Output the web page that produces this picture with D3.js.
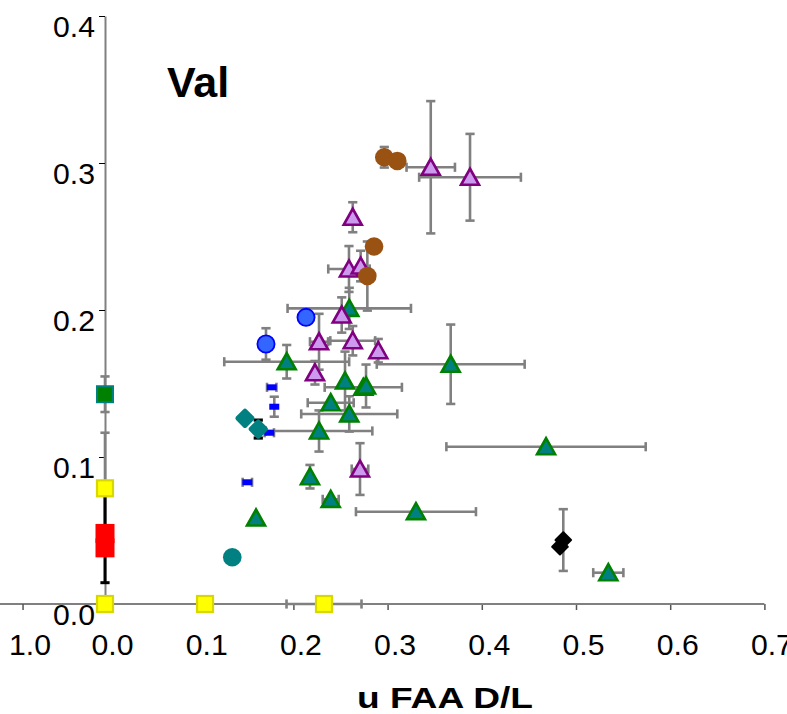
<!DOCTYPE html>
<html>
<head>
<meta charset="utf-8">
<script src="https://cdn.jsdelivr.net/npm/d3@7"></script>
<style>
  html, body { margin: 0; padding: 0; background: #fff; }
  svg { display: block; font-family: "Liberation Sans", Arial, sans-serif; }
</style>
</head>
<body>
<svg id="chart" width="787" height="714"></svg>
<script>
// ---- axis ticks ----
const xTickValues = [0, 0.1, 0.2, 0.3, 0.4, 0.5, 0.6, 0.7];
const xTickLabels = ["0.0", "0.1", "0.2", "0.3", "0.4", "0.5", "0.6", "0.7"];
const yTickValues = [0, 0.1, 0.2, 0.3, 0.4];
const yTickLabels = ["0.0", "0.1", "0.2", "0.3", "0.4"];
const strayTick = { value: -0.087, label: "1.0" };

// ---- series: x = u FAA D/L, y = Val; ex / ey are ± errors (number or [minus, plus]) ----
const purpleTriangles = [
  { x: 0.3458, y: 0.2971, ex: 0.0257, ey: 0.045 },
  { x: 0.3875, y: 0.2903, ex: 0.054, ey: 0.0295 },
  { x: 0.2630, y: 0.2631, ey: 0.0102 },
  { x: 0.2590, y: 0.2279, ex: 0.022, ey: 0.0156 },
  { x: 0.2714, y: 0.2299, ey: 0.0104 },
  { x: 0.2513, y: 0.1966, ey: 0.012 },
  { x: 0.2272, y: 0.1784, ex: 0.0096, ey: 0.019 },
  { x: 0.2630, y: 0.1791, ex: 0.0238, ey: 0.01 },
  { x: 0.2901, y: 0.1723, ey: 0.008 },
  { x: 0.2229, y: 0.1573, ey: 0.008 },
  { x: 0.2707, y: 0.0918, ex: 0.0088, ey: 0.0176 }
];
const greenTriangles = [
  { x: 0.2593, y: 0.2011, ex: 0.0655, ey: 0.014 },
  { x: 0.1929, y: 0.1648, ex: 0.0663, ey: 0.0114 },
  { x: 0.3670, y: 0.1631, ex: 0.0785, ey: 0.027 },
  { x: 0.2548, y: 0.1517, ey: 0.02 },
  { x: 0.2742, y: 0.1474, ex: 0.041 },
  { x: 0.2771, y: 0.1483, ey: 0.0146 },
  { x: 0.2396, y: 0.1369, ex: 0.0244 },
  { x: 0.2593, y: 0.1293, ex: 0.051, ey: 0.012 },
  { x: 0.2272, y: 0.1177, ex: 0.0566, ey: 0.014 },
  { x: 0.4682, y: 0.1070, ex: 0.1058 },
  { x: 0.2176, y: 0.0866, ey: 0.008 },
  { x: 0.2396, y: 0.0712, ex: 0.0085 },
  { x: 0.1603, y: 0.0585 },
  { x: 0.3301, y: 0.0628, ex: 0.0637 },
  { x: 0.5343, y: 0.0213, ex: 0.016 }
];
const brownCircles = [
  { x: 0.2965, y: 0.3039, ey: 0.007 },
  { x: 0.3103, y: 0.3014 },
  { x: 0.2856, y: 0.2432 },
  { x: 0.2785, y: 0.2231, ey: 0.0235 }
];
const blueCircles = [
  { x: 0.2134, y: 0.1950 },
  { x: 0.1709, y: 0.1769, ey: 0.0107 }
];
const blueDashes = [
  { x: 0.1770, y: 0.1474, ex: 0.005 },
  { x: 0.1797, y: 0.1342, ey: 0.0068 },
  { x: 0.1744, y: 0.1165, ex: 0.005 },
  { x: 0.1511, y: 0.0828, ex: 0.005 }
];
const tealDiamonds = [
  { x: 0.1486, y: 0.1263 },
  { x: 0.1627, y: 0.1190, eyBlack: 0.0061 }
];
const tealCircles = [
  { x: 0.1351, y: 0.0318 }
];
const blackDiamonds = [
  { x: 0.4865, y: 0.0435, ey: 0.021 },
  { x: 0.4830, y: 0.0390 }
];
const yellowSquares = [
  { x: 0, y: 0.0787, ey: 0.0378 },
  { x: 0, y: 0 },
  { x: 0.1062, y: 0 },
  { x: 0.2325, y: 0, ex: 0.0398 }
];
const redSquares = [
  { x: 0, y: 0.0480 },
  { x: 0, y: 0.0382, eyBlack: [0.0237, 0.042] }
];
const greenSquares = [
  { x: 0, y: 0.1427, ey: 0.0121 }
];

// ---- scales ----
const x = d3.scaleLinear().domain([0, 0.7]).range([105, 764.4]);
const y = d3.scaleLinear().domain([0, 0.4]).range([604, 16]);

const svg = d3.select("#chart");

// ---- axes ----
const xAxisG = svg.append("g").attr("transform", `translate(0,${y(0)})`);
xAxisG.call(d3.axisBottom(x).tickValues(xTickValues).tickSize(6).tickSizeOuter(0)
  .tickFormat((d, i) => xTickLabels[i]));
xAxisG.select(".domain").remove();
xAxisG.append("line")
  .attr("x1", x(-0.112)).attr("x2", x(0.7))
  .attr("stroke", "#808080").attr("stroke-width", 2);
// extra tick on the left end of the axis
const stray = xAxisG.append("g").attr("transform", `translate(${x(strayTick.value)},0)`);
stray.append("line").attr("y2", 6);
stray.append("text").text(strayTick.label);
xAxisG.selectAll(".tick line, g line").filter(function () { return this.getAttribute("y2") === "6"; })
  .attr("stroke", "#555").attr("stroke-width", 1.5);
xAxisG.selectAll("text")
  .attr("x", 7).attr("y", 51).attr("dy", null)
  .attr("fill", "#000").attr("font-size", 29)
  .attr("text-anchor", "middle")
  .attr("textLength", 42).attr("lengthAdjust", "spacingAndGlyphs");

const yAxisG = svg.append("g").attr("transform", `translate(${x(0)},0)`);
yAxisG.call(d3.axisLeft(y).tickValues(yTickValues).tickSize(6).tickSizeOuter(0)
  .tickFormat((d, i) => yTickLabels[i]));
yAxisG.select(".domain").attr("stroke", "#808080").attr("stroke-width", 2);
yAxisG.selectAll(".tick line").attr("stroke", "#000").attr("stroke-width", 1);
yAxisG.selectAll("text")
  .attr("x", -10).attr("y", 20).attr("dy", null)
  .attr("fill", "#000").attr("font-size", 29)
  .attr("text-anchor", "end")
  .attr("textLength", 42).attr("lengthAdjust", "spacingAndGlyphs");

// ---- error bars ----
const errG = svg.append("g");
const CAP = 4.6;
function split(e) { return Array.isArray(e) ? e : [e, e]; }
function drawErr(data, key, color, width) {
  data.forEach(d => {
    const cx = x(d.x), cy = y(d.y);
    const eY = d[key === "gray" ? "ey" : "eyBlack"];
    const eX = key === "gray" ? d.ex : null;
    if (eY) {
      const [lo, hi] = split(eY);
      const y1 = y(d.y - lo), y2 = y(d.y + hi);
      errG.append("line").attr("x1", cx).attr("x2", cx).attr("y1", y1).attr("y2", y2)
        .attr("stroke", color).attr("stroke-width", width);
      [y1, y2].forEach(v => errG.append("line")
        .attr("x1", cx - CAP).attr("x2", cx + CAP).attr("y1", v).attr("y2", v)
        .attr("stroke", color).attr("stroke-width", width));
    }
    if (eX) {
      const [lo, hi] = split(eX);
      const x1 = x(d.x - lo), x2 = x(d.x + hi);
      errG.append("line").attr("x1", x1).attr("x2", x2).attr("y1", cy).attr("y2", cy)
        .attr("stroke", color).attr("stroke-width", width);
      [x1, x2].forEach(v => errG.append("line")
        .attr("x1", v).attr("x2", v).attr("y1", cy - CAP).attr("y2", cy + CAP)
        .attr("stroke", color).attr("stroke-width", width));
    }
  });
}
const allSeries = [greenSquares, yellowSquares, redSquares, tealCircles, blueDashes, tealDiamonds,
  blueCircles, greenTriangles, purpleTriangles, brownCircles, blackDiamonds];
allSeries.forEach(s => drawErr(s, "gray", "#808080", 2.6));
drawErr(redSquares, "black", "#000", 3);
drawErr(tealDiamonds, "black", "#000", 3.2);

// ---- markers ----
const mk = svg.append("g");
function pts(data) {
  return mk.append("g").selectAll("g").data(data).join("g")
    .attr("transform", d => `translate(${x(d.x)},${y(d.y)})`);
}
const triPath = "M0,-8.5 L9,7.5 L-9,7.5 Z";

pts(greenSquares).append("rect").attr("x", -8).attr("y", -8).attr("width", 16).attr("height", 16)
  .attr("fill", "#008000").attr("stroke", "#008080").attr("stroke-width", 2);
pts(redSquares).append("rect").attr("x", -9.5).attr("y", -9.5).attr("width", 19).attr("height", 19)
  .attr("fill", "#ff0000");
pts(yellowSquares).append("rect").attr("x", -8).attr("y", -8).attr("width", 16).attr("height", 16)
  .attr("fill", "#ffff00").attr("stroke", "#d8d800").attr("stroke-width", 2.2);
pts(tealCircles).append("circle").attr("r", 9.3).attr("fill", "#008080");
pts(blueDashes).append("rect").attr("x", -5).attr("y", -3).attr("width", 10).attr("height", 6)
  .attr("fill", "#0000ff");
pts(tealDiamonds).append("rect").attr("x", -7.5).attr("y", -7.5).attr("width", 15).attr("height", 15)
  .attr("rx", 2.5).attr("transform", "rotate(45)").attr("fill", "#008080");
pts(blueCircles).append("circle").attr("r", 8.6).attr("fill", "#3366ff")
  .attr("stroke", "#0000ff").attr("stroke-width", 1.8);
pts(greenTriangles).append("path").attr("d", triPath)
  .attr("fill", "#008080").attr("stroke", "#008000").attr("stroke-width", 2.6).attr("stroke-linejoin", "miter");
pts(purpleTriangles).append("path").attr("d", triPath)
  .attr("fill", "#cc99ee").attr("stroke", "#800080").attr("stroke-width", 2.6).attr("stroke-linejoin", "miter");
pts(brownCircles).append("circle").attr("r", 9.3).attr("fill", "#9a5212");
pts(blackDiamonds).append("rect").attr("x", -6.5).attr("y", -6.5).attr("width", 13).attr("height", 13)
  .attr("rx", 1).attr("transform", "rotate(45)").attr("fill", "#000");

// ---- titles ----
svg.append("text").attr("x", 167).attr("y", 97)
  .attr("font-size", 43).attr("font-weight", "bold").attr("fill", "#000").text("Val");
svg.append("text").attr("x", 445).attr("y", 708)
  .attr("text-anchor", "middle").attr("font-size", 30).attr("font-weight", "bold").attr("fill", "#000")
  .attr("textLength", 176).attr("lengthAdjust", "spacingAndGlyphs")
  .text("u FAA D/L");
</script>
</body>
</html>
